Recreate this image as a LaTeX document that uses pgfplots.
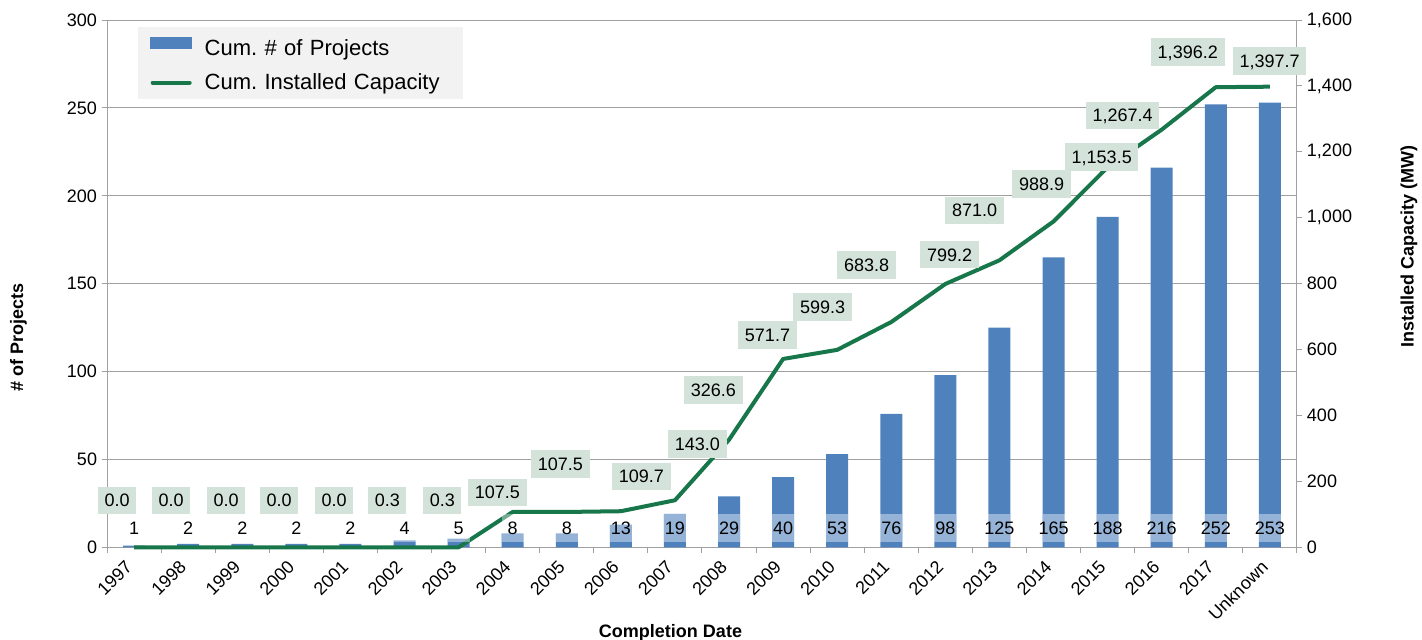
\documentclass[border=0pt]{standalone}
\usepackage{fontspec}
\setmainfont{Liberation Sans}
\usepackage{pgfplots}
\usepackage{pgfplotstable}
\pgfplotsset{compat=1.18}
\usetikzlibrary{calc}
\definecolor{barblue}{RGB}{79,129,189}
\definecolor{linegreen}{RGB}{24,118,75}
\definecolor{lblfill}{RGB}{211,227,217}
\definecolor{gridgray}{RGB}{160,160,160}
\definecolor{legfill}{RGB}{242,242,242}
\newcommand{\lblfont}{\fontsize{13.5}{16}\selectfont}
\newcommand{\legfont}{\fontsize{16.5}{20}\selectfont}
\newcommand{\titlefont}{\bfseries\fontsize{13.5}{16}\selectfont}
\frenchspacing

\pgfplotstableread{
idx year proj mw
0 1997 1 0.0
1 1998 2 0.0
2 1999 2 0.0
3 2000 2 0.0
4 2001 2 0.0
5 2002 4 0.3
6 2003 5 0.3
7 2004 8 107.5
8 2005 8 107.5
9 2006 13 109.7
10 2007 19 143.0
11 2008 29 326.6
12 2009 40 571.7
13 2010 53 599.3
14 2011 76 683.8
15 2012 98 799.2
16 2013 125 871.0
17 2014 165 988.9
18 2015 188 1153.5
19 2016 216 1267.4
20 2017 252 1396.2
21 Unknown 253 1397.7
}\datatable

\pgfplotsset{common/.style={
  scale only axis, width=891.75pt, height=395.25pt,
  xmin=-0.5, xmax=21.5,
  axis line style={gridgray, line width=0.75pt},
  tick style={gridgray, line width=0.75pt},
  tick label style={font=\lblfont, black},
  /pgf/number format/assume math mode=true,
  major tick length=4pt,
  tick align=outside,
}}
\tikzset{
  linelbl/.style={fill=lblfill, font=\lblfont, text height=9.7pt, text depth=0pt, inner xsep=5pt, inner ysep=5.5pt},
  barbox/.style={fill=white, fill opacity=0.4, draw=none, minimum width=16.5pt, minimum height=21pt, inner sep=0pt},
  barlbl/.style={font=\lblfont, inner sep=0pt},
  legtext/.style={text width=184.5pt, text height=15.5pt, text depth=1.5pt, inner ysep=4pt, inner xsep=0pt},
}

\begin{document}
\begin{tikzpicture}
\begin{axis}[common, name=ax,
  ybar, bar width=16.5pt,
  axis x line*=bottom, axis y line*=left,
  ymin=0, ymax=300, ytick={0,50,...,300},
  ymajorgrids, grid style={gridgray, line width=0.75pt},
  xtick={-0.5,0.5,...,21.5},
  xticklabels={1997,1998,1999,2000,2001,2002,2003,2004,2005,2006,2007,2008,2009,2010,2011,2012,2013,2014,2015,2016,2017,Unknown},
  xticklabel style={xshift=18.8pt, yshift=-6pt, rotate=45, anchor=east},
]
\addplot[fill=barblue, draw=none] table[x=idx, y=proj] {\datatable};
\end{axis}

\begin{axis}[common,
  axis y line*=right, axis x line=none,
  ymin=0, ymax=1600, ytick={0,200,...,1600},
  clip=false,
  legend cell align=left,
  legend style={at={(0.0261,0.9867)}, anchor=north west, fill=legfill, draw=none,
    inner xsep=9pt, inner ysep=2pt, nodes={inner sep=0pt}, font=\legfont, row sep=0pt},
]
\addlegendimage{legend image code/.code={\fill[barblue] (0pt,-1.5pt) rectangle (30.75pt,6.75pt); \path (39pt,0pt);}}
\addlegendentry[legtext]{Cum. \# of Projects}
\addplot[linegreen, line width=3pt, line join=round, mark=none,
  legend image code/.code={\draw[linegreen, line width=3pt, line cap=round] (1.5pt,-2pt) -- (29.25pt,-2pt); \path (39pt,0pt);}]
  table[x=idx, y=mw] {\datatable};
\addlegendentry[legtext]{Cum. Installed Capacity}

\pgfplotsinvokeforeach{0,...,21}{\node[barbox] at (axis cs:#1,57.7) {};}
\node[barlbl] at (axis cs:0,57.7) {1};
\node[barlbl] at (axis cs:1,57.7) {2};
\node[barlbl] at (axis cs:2,57.7) {2};
\node[barlbl] at (axis cs:3,57.7) {2};
\node[barlbl] at (axis cs:4,57.7) {2};
\node[barlbl] at (axis cs:5,57.7) {4};
\node[barlbl] at (axis cs:6,57.7) {5};
\node[barlbl] at (axis cs:7,57.7) {8};
\node[barlbl] at (axis cs:8,57.7) {8};
\node[barlbl] at (axis cs:9,57.7) {13};
\node[barlbl] at (axis cs:10,57.7) {19};
\node[barlbl] at (axis cs:11,57.7) {29};
\node[barlbl] at (axis cs:12,57.7) {40};
\node[barlbl] at (axis cs:13,57.7) {53};
\node[barlbl] at (axis cs:14,57.7) {76};
\node[barlbl] at (axis cs:15,57.7) {98};
\node[barlbl] at (axis cs:16,57.7) {125};
\node[barlbl] at (axis cs:17,57.7) {165};
\node[barlbl] at (axis cs:18,57.7) {188};
\node[barlbl] at (axis cs:19,57.7) {216};
\node[barlbl] at (axis cs:20,57.7) {252};
\node[barlbl] at (axis cs:21,57.7) {253};

\node[linelbl] at (axis cs:-0.315,142.7) {0.0};
\node[linelbl] at (axis cs:0.685,142.7) {0.0};
\node[linelbl] at (axis cs:1.702,142.7) {0.0};
\node[linelbl] at (axis cs:2.683,142.7) {0.0};
\node[linelbl] at (axis cs:3.700,142.7) {0.0};
\node[linelbl] at (axis cs:4.681,142.7) {0.3};
\node[linelbl] at (axis cs:5.698,142.7) {0.3};
\node[linelbl] at (axis cs:6.716,167.0) {107.5};
\node[linelbl] at (axis cs:7.882,252.9) {107.5};
\node[linelbl] at (axis cs:9.380,215.6) {109.7};
\node[linelbl] at (axis cs:10.416,313.6) {143.0};
\node[linelbl] at (axis cs:10.712,477.6) {326.6};
\node[linelbl] at (axis cs:11.711,643.7) {571.7};
\node[linelbl] at (axis cs:12.729,729.6) {599.3};
\node[linelbl] at (axis cs:13.543,856.2) {683.8};
\node[linelbl] at (axis cs:15.079,888.1) {799.2};
\node[linelbl] at (axis cs:15.541,1022.3) {871.0};
\node[linelbl] at (axis cs:16.781,1102.1) {988.9};
\node[linelbl] at (axis cs:17.891,1184.1) {1,153.5};
\node[linelbl] at (axis cs:18.279,1310.7) {1,267.4};
\node[linelbl] at (axis cs:19.482,1502.9) {1,396.2};
\node[linelbl] at (axis cs:20.994,1475.5) {1,397.7};
\end{axis}

\node[font=\titlefont, rotate=90] at ($(ax.south west)+(-66.4pt,157.5pt)$) {\# of Projects};
\node[font=\titlefont, rotate=90] at ($(ax.south east)+(84pt,225.75pt)$) {Installed Capacity (MW)};
\node[font=\titlefont] at ($(ax.south west)+(422.25pt,-63.75pt)$) {Completion Date};

\pgfresetboundingbox
\path ($(ax.south west)+(-80.25pt,-69pt)$) rectangle ($(ax.north east)+(93.75pt,15pt)$);
\end{tikzpicture}
\end{document}
